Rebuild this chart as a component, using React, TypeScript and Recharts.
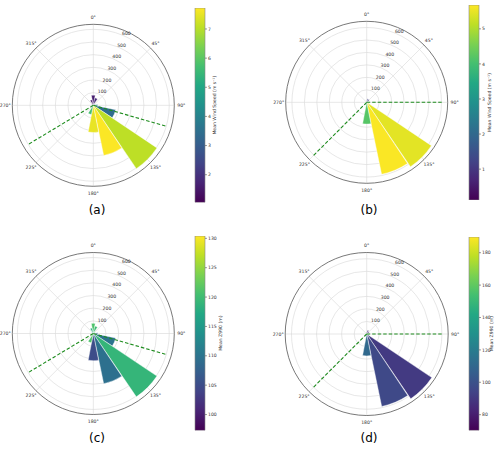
import React from 'react';
import {
  RadarChart, Radar, PolarGrid, PolarAngleAxis, PolarRadiusAxis,
  RadialBarChart, RadialBar, Cell, LineChart, Line, XAxis, YAxis,
  BarChart, Bar, Label,
} from 'recharts';

// ---------- data ----------
const directions = [0, 22.5, 45, 67.5, 90, 112.5, 135, 157.5, 180, 202.5, 225, 247.5, 270, 292.5, 315, 337.5];
const compassLabels = ['0°', '45°', '90°', '135°', '180°', '225°', '270°', '315°'];
const radiusTicks = [100, 200, 300, 400, 500, 600];

// sector counts (a,c share one set, b,d the other)
const countsAC = [80, 60, 15, 15, 35, 180, 605, 405, 215, 75, 20, 12, 10, 10, 15, 45];
const countsBD = [15, 30, 25, 10, 10, 15, 625, 590, 175, 20, 10, 5, 5, 5, 8, 10];

// colour variables
const windSpeedA = [1.6, 1.8, 2.2, 2.6, 3.8, 3.4, 7.05, 7.7, 7.5, 5.7, 4.5, 3.5, 2.5, 2.0, 1.7, 1.5];
const windSpeedB = [1.0, 1.2, 0.9, 1.5, 2.0, 3.0, 5.45, 5.65, 4.2, 3.0, 2.0, 1.5, 1.2, 1.0, 0.8, 0.9];
const z990C = [121, 120, 115, 112, 108, 110, 119, 109.5, 105, 121, 118, 115, 112, 110, 112, 118];
const z990D = [80, 82, 85, 90, 95, 100, 90.6, 96.6, 111, 120, 110, 100, 95, 90, 85, 80];

const rangeA = [1.05, 7.72];
const ticksA = [2, 3, 4, 5, 6, 7];
const rangeB = [0.12, 5.68];
const ticksB = [1, 2, 3, 4, 5];
const rangeC = [97.3, 130.4];
const ticksC = [100, 105, 110, 115, 120, 125, 130];
const rangeD = [70.3, 189.7];
const ticksD = [80, 100, 120, 140, 160, 180];

const windLabel = 'Mean Wind Speed (m s⁻¹)';
const zLabel = 'Mean Z990 (m)';

// dashed guide directions (degrees, compass) and length
const guidesAC = [106, 239];
const guidesBD = [90, 225];
const guideLenAC = 605;
const guideLenBD = 612;

// ---------- colour ----------
const VIRIDIS = ['#440154', '#482475', '#414487', '#355f8d', '#2a788e', '#21918c', '#22a884', '#44bf70', '#7ad151', '#bddf26', '#fde725'];
function hexToRgb(h: string) {
  return [parseInt(h.slice(1, 3), 16), parseInt(h.slice(3, 5), 16), parseInt(h.slice(5, 7), 16)];
}
function viridis(t: number) {
  const tt = Math.max(0, Math.min(1, t)) * 10;
  const i = Math.min(9, Math.floor(tt));
  const f = tt - i;
  const a = hexToRgb(VIRIDIS[i]);
  const b = hexToRgb(VIRIDIS[i + 1]);
  const c = a.map((v, k) => Math.round(v + (b[k] - v) * f));
  return `rgb(${c[0]},${c[1]},${c[2]})`;
}

const FONT = 'DejaVu Sans';
const SMALL = 4.6;
const HALF_BIN = 11.25;
const BIN = 22.5;

type PanelProps = {
  id: string;
  left: number; top: number;
  cx: number; cy: number; R: number; rMax: number;
  counts: number[]; colorVals: number[]; cRange: number[]; cTicks: number[]; cLabel: string;
  guides: number[]; guideLen: number;
  barX: number; barTop: number; barBottom: number; axisW: number;
  tag: string; tagX: number; tagY: number;
};

function Panel(p: PanelProps) {
  const W = 250, H = 228;
  const radarData = compassLabels.map((l) => ({ label: l, r: 0 }));
  const barData = directions.map((d, i) => ({ dir: d, count: p.counts[i] }));
  const angleTick = (props: any) => {
    const a = (props.payload.coordinate * Math.PI) / 180;
    const rr = p.R + 7;
    return (
      <text x={p.cx + rr * Math.cos(a)} y={p.cy - rr * Math.sin(a)} textAnchor="middle" dominantBaseline="central"
        fontSize={SMALL} fontFamily={FONT} fill="#333">{props.payload.value}</text>
    );
  };
  const radiusTick = (props: any) => (
    <text x={props.x + 4} y={props.y - 0.3} textAnchor="middle" fontSize={SMALL} fontFamily={FONT} fill="#333">
      {props.payload.value}
    </text>
  );
  const lineMargin = { left: p.cx - p.R, right: W - (p.cx + p.R), top: p.cy - p.R, bottom: H - (p.cy + p.R) };
  const cbH = p.barBottom - p.barTop;
  const gradId = `grad-${p.id}`;
  return (
    <div style={{ position: 'absolute', left: p.left, top: p.top, width: W, height: H }}>
      <div style={{ position: 'absolute', left: 0, top: 0 }}>
        <RadarChart width={W} height={H} cx={p.cx} cy={p.cy} outerRadius={p.R} startAngle={90} endAngle={-270}
          data={radarData} margin={{ top: 0, right: 0, bottom: 0, left: 0 }}>
          <PolarGrid gridType="circle" stroke="#d6d6d6" strokeWidth={0.6} />
          <PolarAngleAxis dataKey="label" tick={angleTick} tickLine={false} axisLineType="circle"
            axisLine={{ stroke: '#555', strokeWidth: 0.8 }} />
          <PolarRadiusAxis type="number" domain={[0, p.rMax]} ticks={radiusTicks} angle={67.5}
            axisLine={false} tickLine={false} tick={radiusTick} />
          <Radar dataKey="r" stroke="none" fill="none" dot={false} isAnimationActive={false} />
        </RadarChart>
      </div>
      <div style={{ position: 'absolute', left: 0, top: 0 }}>
        <RadialBarChart width={W} height={H} cx={p.cx} cy={p.cy} innerRadius={0} outerRadius={p.R}
          startAngle={90 + HALF_BIN - BIN} endAngle={-270 + HALF_BIN - BIN} layout="centric" data={barData}
          barCategoryGap="2%" margin={{ top: 0, right: 0, bottom: 0, left: 0 }}>
          <PolarAngleAxis type="category" dataKey="dir" tick={false} tickLine={false} axisLine={false} />
          <PolarRadiusAxis type="number" domain={[0, p.rMax]} tick={false} tickLine={false} axisLine={false} />
          <RadialBar dataKey="count" isAnimationActive={false} stroke="#fff" strokeWidth={0.4}>
            {barData.map((_, i) => (
              <Cell key={i} fill={viridis((p.colorVals[i] - p.cRange[0]) / (p.cRange[1] - p.cRange[0]))} />
            ))}
          </RadialBar>
        </RadialBarChart>
      </div>
      <div style={{ position: 'absolute', left: 0, top: 0 }}>
        <LineChart width={W} height={H} margin={lineMargin}>
          <XAxis type="number" dataKey="x" domain={[-p.rMax, p.rMax]} hide allowDataOverflow />
          <YAxis type="number" dataKey="y" domain={[-p.rMax, p.rMax]} hide allowDataOverflow />
          {p.guides.map((b, i) => {
            const rad = (b * Math.PI) / 180;
            const pts = [{ x: 0, y: 0 }, { x: p.guideLen * Math.sin(rad), y: p.guideLen * Math.cos(rad) }];
            return (
              <Line key={i} data={pts} dataKey="y" stroke="#1e8c1e" strokeWidth={1.1} strokeDasharray="3.5 2"
                dot={false} isAnimationActive={false} />
            );
          })}
        </LineChart>
      </div>
      <div style={{ position: 'absolute', left: p.barX - 5, top: p.barTop - 4 }}>
        <BarChart width={5 + 10 + p.axisW} height={cbH + 8} data={[{ name: 'cb', v: p.cRange }]}
          margin={{ top: 4, right: 0, bottom: 4, left: 5 }} barCategoryGap={0}>
          <defs>
            <linearGradient id={gradId} x1="0" y1="0" x2="0" y2="1">
              {VIRIDIS.slice().reverse().map((c, i) => (
                <stop key={i} offset={`${i * 10}%`} stopColor={c} />
              ))}
            </linearGradient>
          </defs>
          <XAxis dataKey="name" hide />
          <YAxis orientation="right" type="number" domain={p.cRange} ticks={p.cTicks} interval={0}
            allowDataOverflow width={p.axisW} tickSize={2} tickMargin={1} axisLine={false}
            tickLine={{ stroke: '#333', strokeWidth: 0.5 }}
            tick={{ fontSize: SMALL, fill: '#333', fontFamily: FONT }}>
            <Label value={p.cLabel} angle={-90} position="center"
              style={{ fontSize: SMALL, fill: '#333', fontFamily: FONT }} />
          </YAxis>
          <Bar dataKey="v" fill={`url(#${gradId})`} stroke="#888" strokeWidth={0.6} isAnimationActive={false} />
        </BarChart>
      </div>
      <div style={{
        position: 'absolute', left: p.tagX - 30, top: p.tagY - 9, width: 60, textAlign: 'center',
        fontFamily: FONT, fontSize: 12, lineHeight: '18px', color: '#000',
      }}>{p.tag}</div>
    </div>
  );
}

export default function App() {
  return (
    <div style={{ position: 'absolute', left: 0, top: 0, width: 500, height: 456, background: '#fff' }}>
      <Panel id="a" left={0} top={0} cx={93.3} cy={105.3} R={81} rMax={640}
        counts={countsAC} colorVals={windSpeedA} cRange={rangeA} cTicks={ticksA} cLabel={windLabel}
        guides={guidesAC} guideLen={guideLenAC}
        barX={195} barTop={8.3} barBottom={202.7} axisW={18} tag="(a)" tagX={97} tagY={210} />
      <Panel id="b" left={250} top={0} cx={116.7} cy={102.3} R={81} rMax={650}
        counts={countsBD} colorVals={windSpeedB} cRange={rangeB} cTicks={ticksB} cLabel={windLabel}
        guides={guidesBD} guideLen={guideLenBD}
        barX={219.3} barTop={5} barBottom={200} axisW={20} tag="(b)" tagX={119} tagY={210} />
      <Panel id="c" left={0} top={228} cx={93.3} cy={105.5} R={81} rMax={640}
        counts={countsAC} colorVals={z990C} cRange={rangeC} cTicks={ticksC} cLabel={zLabel}
        guides={guidesAC} guideLen={guideLenAC}
        barX={195} barTop={8.3} barBottom={202.7} axisW={31} tag="(c)" tagX={97} tagY={210} />
      <Panel id="d" left={250} top={228} cx={116.7} cy={106} R={81.5} rMax={650}
        counts={countsBD} colorVals={z990D} cRange={rangeD} cTicks={ticksD} cLabel={zLabel}
        guides={guidesBD} guideLen={guideLenBD}
        barX={219.3} barTop={9.3} barBottom={202.7} axisW={24} tag="(d)" tagX={119} tagY={210} />
    </div>
  );
}
